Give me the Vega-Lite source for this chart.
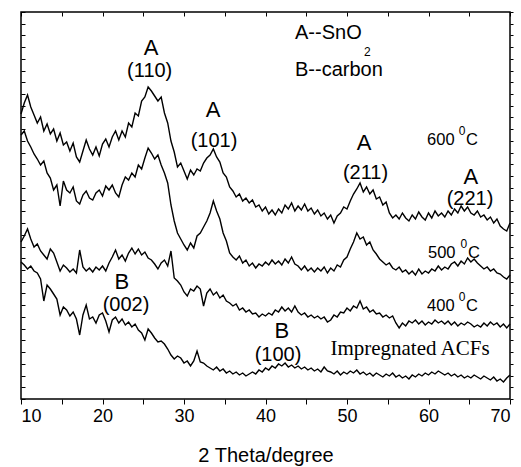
{
"$schema": "https://vega.github.io/schema/vega-lite/v6.json",
"width": 489, "height": 387,
"autosize": "none",
"padding": {"left": 21, "top": 12, "right": 11, "bottom": 68},
"background": "white",
"config": {
 "view": {"stroke": "black", "strokeWidth": 1.5},
 "axis": {"domain": false, "grid": false, "tickColor": "black", "labelColor": "black", "titleColor": "black", "labelFont": "Liberation Sans", "titleFont": "Liberation Sans", "tickWidth": 1},
 "text": {"font": "Liberation Sans", "fill": "black"}
},
"datasets": {
 "xrd": [
{"x":10.0,"a":285,"b":264,"c":157,"d":137},
{"x":10.4,"a":296,"b":268,"c":163,"d":134},
{"x":10.8,"a":304,"b":258,"c":170,"d":130},
{"x":11.2,"a":292,"b":252,"c":160,"d":133},
{"x":11.6,"a":284,"b":245,"c":152,"d":128},
{"x":12.0,"a":276,"b":240,"c":155,"d":126},
{"x":12.4,"a":282,"b":234,"c":148,"d":120},
{"x":12.8,"a":268,"b":238,"c":144,"d":98},
{"x":13.2,"a":275,"b":226,"c":140,"d":114},
{"x":13.6,"a":265,"b":221,"c":150,"d":110},
{"x":14.0,"a":270,"b":209,"c":146,"d":105},
{"x":14.4,"a":258,"b":214,"c":137,"d":100},
{"x":14.8,"a":266,"b":193,"c":128,"d":84},
{"x":15.2,"a":254,"b":218,"c":134,"d":92},
{"x":15.6,"a":257,"b":209,"c":131,"d":89},
{"x":16.0,"a":248,"b":206,"c":127,"d":83},
{"x":16.4,"a":256,"b":212,"c":130,"d":87},
{"x":16.8,"a":242,"b":198,"c":126,"d":80},
{"x":17.2,"a":237,"b":195,"c":149,"d":64},
{"x":17.6,"a":248,"b":204,"c":132,"d":84},
{"x":18.0,"a":259,"b":208,"c":128,"d":94},
{"x":18.4,"a":250,"b":201,"c":131,"d":80},
{"x":18.8,"a":244,"b":199,"c":127,"d":82},
{"x":19.2,"a":252,"b":206,"c":132,"d":76},
{"x":19.6,"a":243,"b":209,"c":129,"d":84},
{"x":20.0,"a":255,"b":203,"c":133,"d":86},
{"x":20.4,"a":260,"b":213,"c":128,"d":78},
{"x":20.8,"a":252,"b":209,"c":136,"d":67},
{"x":21.2,"a":262,"b":214,"c":142,"d":79},
{"x":21.6,"a":268,"b":206,"c":149,"d":82},
{"x":22.0,"a":259,"b":202,"c":140,"d":76},
{"x":22.4,"a":268,"b":214,"c":144,"d":80},
{"x":22.8,"a":262,"b":222,"c":138,"d":74},
{"x":23.2,"a":276,"b":219,"c":146,"d":77},
{"x":23.6,"a":272,"b":226,"c":151,"d":72},
{"x":24.0,"a":286,"b":222,"c":145,"d":75},
{"x":24.4,"a":283,"b":234,"c":150,"d":69},
{"x":24.8,"a":298,"b":230,"c":144,"d":66},
{"x":25.2,"a":302,"b":241,"c":147,"d":59},
{"x":25.6,"a":312,"b":251,"c":141,"d":70},
{"x":26.0,"a":308,"b":246,"c":139,"d":66},
{"x":26.4,"a":303,"b":240,"c":135,"d":61},
{"x":26.8,"a":298,"b":244,"c":130,"d":57},
{"x":27.2,"a":302,"b":234,"c":136,"d":58},
{"x":27.6,"a":286,"b":226,"c":139,"d":55},
{"x":28.0,"a":276,"b":216,"c":133,"d":50},
{"x":28.4,"a":258,"b":194,"c":148,"d":44},
{"x":28.8,"a":247,"b":178,"c":121,"d":40},
{"x":29.2,"a":232,"b":166,"c":118,"d":43},
{"x":29.6,"a":236,"b":160,"c":114,"d":41},
{"x":30.0,"a":228,"b":154,"c":107,"d":36},
{"x":30.4,"a":220,"b":149,"c":103,"d":38},
{"x":30.8,"a":229,"b":156,"c":110,"d":33},
{"x":31.2,"a":224,"b":151,"c":108,"d":38},
{"x":31.6,"a":230,"b":163,"c":113,"d":48},
{"x":32.0,"a":228,"b":166,"c":110,"d":37},
{"x":32.4,"a":236,"b":172,"c":93,"d":36},
{"x":32.8,"a":241,"b":178,"c":106,"d":33},
{"x":33.2,"a":244,"b":186,"c":110,"d":31},
{"x":33.6,"a":250,"b":198,"c":104,"d":29},
{"x":34.0,"a":242,"b":188,"c":107,"d":32},
{"x":34.4,"a":237,"b":180,"c":101,"d":28},
{"x":34.8,"a":226,"b":166,"c":104,"d":30},
{"x":35.2,"a":222,"b":158,"c":98,"d":26},
{"x":35.6,"a":212,"b":146,"c":96,"d":28},
{"x":36.0,"a":208,"b":142,"c":93,"d":25},
{"x":36.4,"a":202,"b":139,"c":95,"d":27},
{"x":36.8,"a":205,"b":143,"c":89,"d":24},
{"x":37.2,"a":198,"b":136,"c":91,"d":26},
{"x":37.6,"a":201,"b":139,"c":87,"d":23},
{"x":38.0,"a":196,"b":133,"c":89,"d":25},
{"x":38.4,"a":199,"b":136,"c":85,"d":27},
{"x":38.8,"a":192,"b":131,"c":86,"d":25},
{"x":39.2,"a":194,"b":135,"c":82,"d":29},
{"x":39.6,"a":188,"b":133,"c":85,"d":27},
{"x":40.0,"a":192,"b":137,"c":83,"d":31},
{"x":40.4,"a":185,"b":134,"c":86,"d":29},
{"x":40.8,"a":189,"b":139,"c":84,"d":33},
{"x":41.2,"a":184,"b":135,"c":89,"d":31},
{"x":41.6,"a":190,"b":138,"c":87,"d":35},
{"x":42.0,"a":186,"b":134,"c":92,"d":33},
{"x":42.4,"a":194,"b":140,"c":88,"d":36},
{"x":42.8,"a":190,"b":136,"c":91,"d":32},
{"x":43.2,"a":196,"b":142,"c":87,"d":34},
{"x":43.6,"a":188,"b":135,"c":93,"d":31},
{"x":44.0,"a":193,"b":133,"c":87,"d":33},
{"x":44.4,"a":189,"b":129,"c":84,"d":30},
{"x":44.8,"a":195,"b":133,"c":86,"d":32},
{"x":45.2,"a":188,"b":128,"c":82,"d":29},
{"x":45.6,"a":191,"b":131,"c":84,"d":31},
{"x":46.0,"a":185,"b":127,"c":81,"d":28},
{"x":46.4,"a":189,"b":131,"c":83,"d":30},
{"x":46.8,"a":183,"b":128,"c":80,"d":27},
{"x":47.2,"a":186,"b":132,"c":82,"d":32},
{"x":47.6,"a":180,"b":126,"c":77,"d":28},
{"x":48.0,"a":184,"b":131,"c":79,"d":27},
{"x":48.4,"a":176,"b":128,"c":84,"d":25},
{"x":48.8,"a":183,"b":134,"c":82,"d":28},
{"x":49.2,"a":186,"b":132,"c":87,"d":24},
{"x":49.6,"a":192,"b":139,"c":86,"d":27},
{"x":50.0,"a":190,"b":142,"c":91,"d":25},
{"x":50.4,"a":198,"b":150,"c":88,"d":28},
{"x":50.8,"a":205,"b":157,"c":93,"d":26},
{"x":51.2,"a":210,"b":166,"c":91,"d":29},
{"x":51.6,"a":216,"b":160,"c":98,"d":25},
{"x":52.0,"a":207,"b":162,"c":90,"d":27},
{"x":52.4,"a":212,"b":154,"c":92,"d":24},
{"x":52.8,"a":205,"b":157,"c":87,"d":26},
{"x":53.2,"a":209,"b":149,"c":89,"d":23},
{"x":53.6,"a":200,"b":145,"c":85,"d":26},
{"x":54.0,"a":202,"b":140,"c":86,"d":24},
{"x":54.4,"a":194,"b":137,"c":82,"d":22},
{"x":54.8,"a":197,"b":134,"c":84,"d":25},
{"x":55.2,"a":186,"b":136,"c":81,"d":23},
{"x":55.6,"a":181,"b":131,"c":83,"d":26},
{"x":56.0,"a":184,"b":129,"c":76,"d":22},
{"x":56.4,"a":180,"b":132,"c":71,"d":24},
{"x":56.8,"a":186,"b":127,"c":76,"d":21},
{"x":57.2,"a":181,"b":129,"c":73,"d":23},
{"x":57.6,"a":178,"b":125,"c":78,"d":20},
{"x":58.0,"a":184,"b":128,"c":76,"d":24},
{"x":58.4,"a":180,"b":124,"c":79,"d":22},
{"x":58.8,"a":187,"b":130,"c":75,"d":25},
{"x":59.2,"a":182,"b":125,"c":78,"d":23},
{"x":59.6,"a":179,"b":128,"c":74,"d":26},
{"x":60.0,"a":186,"b":126,"c":77,"d":24},
{"x":60.4,"a":181,"b":130,"c":75,"d":27},
{"x":60.8,"a":188,"b":128,"c":79,"d":25},
{"x":61.2,"a":183,"b":133,"c":76,"d":28},
{"x":61.6,"a":186,"b":129,"c":78,"d":26},
{"x":62.0,"a":182,"b":132,"c":75,"d":24},
{"x":62.4,"a":188,"b":130,"c":78,"d":26},
{"x":62.8,"a":184,"b":135,"c":74,"d":23},
{"x":63.2,"a":190,"b":137,"c":77,"d":25},
{"x":63.6,"a":186,"b":133,"c":73,"d":22},
{"x":64.0,"a":193,"b":138,"c":76,"d":24},
{"x":64.4,"a":188,"b":135,"c":74,"d":21},
{"x":64.8,"a":192,"b":141,"c":77,"d":23},
{"x":65.2,"a":186,"b":137,"c":75,"d":21},
{"x":65.6,"a":184,"b":140,"c":72,"d":24},
{"x":66.0,"a":188,"b":136,"c":74,"d":22},
{"x":66.4,"a":182,"b":133,"c":72,"d":20},
{"x":66.8,"a":184,"b":130,"c":76,"d":23},
{"x":67.2,"a":179,"b":132,"c":73,"d":21},
{"x":67.6,"a":182,"b":128,"c":77,"d":19},
{"x":68.0,"a":176,"b":130,"c":74,"d":22},
{"x":68.4,"a":180,"b":126,"c":76,"d":18},
{"x":68.8,"a":173,"b":125,"c":72,"d":20},
{"x":69.2,"a":170,"b":122,"c":75,"d":17},
{"x":69.6,"a":168,"b":120,"c":71,"d":21},
{"x":70.0,"a":176,"b":124,"c":75,"d":24}
 ]
},
"layer": [
 {
  "data": {"name": "xrd"},
  "transform": [{"fold": ["a", "b", "c", "d"], "as": ["k", "v"]}],
  "mark": {"type": "line", "stroke": "black", "strokeWidth": 1.4, "strokeJoin": "miter"},
  "encoding": {
   "x": {"field": "x", "type": "quantitative", "scale": {"domain": [10, 70], "nice": false, "zero": false},
     "axis": {"orient": "bottom", "values": [10,15,20,25,30,35,40,45,50,55,60,65,70], "labelExpr": "datum.value % 10 === 0 ? datum.label : ''", "tickSize": 5, "labelFontSize": 18, "labelPadding": 3, "title": "2 Theta/degree", "titleFontSize": 20, "titleFontWeight": "normal", "titlePadding": 20}},
   "y": {"field": "v", "type": "quantitative", "scale": {"domain": [0, 387], "nice": false, "zero": false},
     "axis": {"orient": "left", "values": [0,11.7,23.5,35.2,46.9,58.7,70.4,82.1,93.8,105.6,117.3,129,140.8,152.5,164.2,176,187.7,199.4,211.1,222.9,234.6,246.3,258.1,269.8,281.5,293.3,305,316.7,328.4,340.2,351.9,363.6,375.4,387], "labels": false, "tickSize": -4, "title": null}},
   "detail": {"field": "k"}
  }
 },
 {
  "data": {"values": [
   {"x": 25.95, "v": 351, "t": "A"},
   {"x": 33.56, "v": 289, "t": "A"},
   {"x": 52.09, "v": 256, "t": "A"},
   {"x": 65.2, "v": 222, "t": "A"},
   {"x": 22.36, "v": 117, "t": "B"},
   {"x": 42.02, "v": 68, "t": "B"}
  ]},
  "mark": {"type": "text", "fontSize": 22, "align": "center", "baseline": "middle"},
  "encoding": {
   "x": {"field": "x", "type": "quantitative", "axis": {"orient": "top", "values": [10,15,20,25,30,35,40,45,50,55,60,65,70], "labels": false, "tickSize": -4, "title": null}},
   "y": {"field": "v", "type": "quantitative", "axis": {"orient": "right", "values": [0,11.7,23.5,35.2,46.9,58.7,70.4,82.1,93.8,105.6,117.3,129,140.8,152.5,164.2,176,187.7,199.4,211.1,222.9,234.6,246.3,258.1,269.8,281.5,293.3,305,316.7,328.4,340.2,351.9,363.6,375.4,387], "labels": false, "tickSize": 3, "title": null}},
   "text": {"field": "t"}
  }
 },
 {
  "data": {"values": [
   {"x": 25.79, "v": 328, "t": "(110)"},
   {"x": 33.68, "v": 258, "t": "(101)"},
   {"x": 52.27, "v": 226, "t": "(211)"},
   {"x": 65.09, "v": 200, "t": "(221)"},
   {"x": 22.88, "v": 94, "t": "(002)"},
   {"x": 41.53, "v": 44, "t": "(100)"}
  ]},
  "mark": {"type": "text", "fontSize": 20, "align": "center", "baseline": "middle"},
  "encoding": {
   "x": {"field": "x", "type": "quantitative", "axis": null},
   "y": {"field": "v", "type": "quantitative", "axis": null},
   "text": {"field": "t"}
  }
 },
 {
  "data": {"values": [
   {"x": 59.82, "v": 259, "t": "600"},
   {"x": 59.94, "v": 146, "t": "500"},
   {"x": 59.82, "v": 93, "t": "400"},
   {"x": 64.6, "v": 259, "t": "C"},
   {"x": 64.85, "v": 146, "t": "C"},
   {"x": 64.6, "v": 93, "t": "C"}
  ]},
  "mark": {"type": "text", "fontSize": 16.5, "align": "left", "baseline": "middle"},
  "encoding": {
   "x": {"field": "x", "type": "quantitative", "axis": null},
   "y": {"field": "v", "type": "quantitative", "axis": null},
   "text": {"field": "t"}
  }
 },
 {
  "data": {"values": [
   {"x": 43.62, "v": 366, "t": "A--SnO"},
   {"x": 43.62, "v": 329, "t": "B--carbon"}
  ]},
  "mark": {"type": "text", "fontSize": 20, "align": "left", "baseline": "middle"},
  "encoding": {
   "x": {"field": "x", "type": "quantitative", "axis": null},
   "y": {"field": "v", "type": "quantitative", "axis": null},
   "text": {"field": "t"}
  }
 },
 {
  "data": {"values": [
   {"x": 64.12, "v": 268, "t": "0"},
   {"x": 64.35, "v": 155, "t": "0"},
   {"x": 64.12, "v": 102, "t": "0"},
   {"x": 52.5, "v": 347, "t": "2"}
  ]},
  "mark": {"type": "text", "fontSize": 12, "align": "center", "baseline": "middle"},
  "encoding": {
   "x": {"field": "x", "type": "quantitative", "axis": null},
   "y": {"field": "v", "type": "quantitative", "axis": null},
   "text": {"field": "t"}
  }
 },
 {
  "data": {"values": [
   {"x": 57.73, "v": 50, "t": "Impregnated ACFs"}
  ]},
  "mark": {"type": "text", "font": "Liberation Serif", "fontSize": 21, "align": "center", "baseline": "middle"},
  "encoding": {
   "x": {"field": "x", "type": "quantitative", "axis": null},
   "y": {"field": "v", "type": "quantitative", "axis": null},
   "text": {"field": "t"}
  }
 }
],
"resolve": {"axis": {"x": "independent", "y": "independent"}}
}
